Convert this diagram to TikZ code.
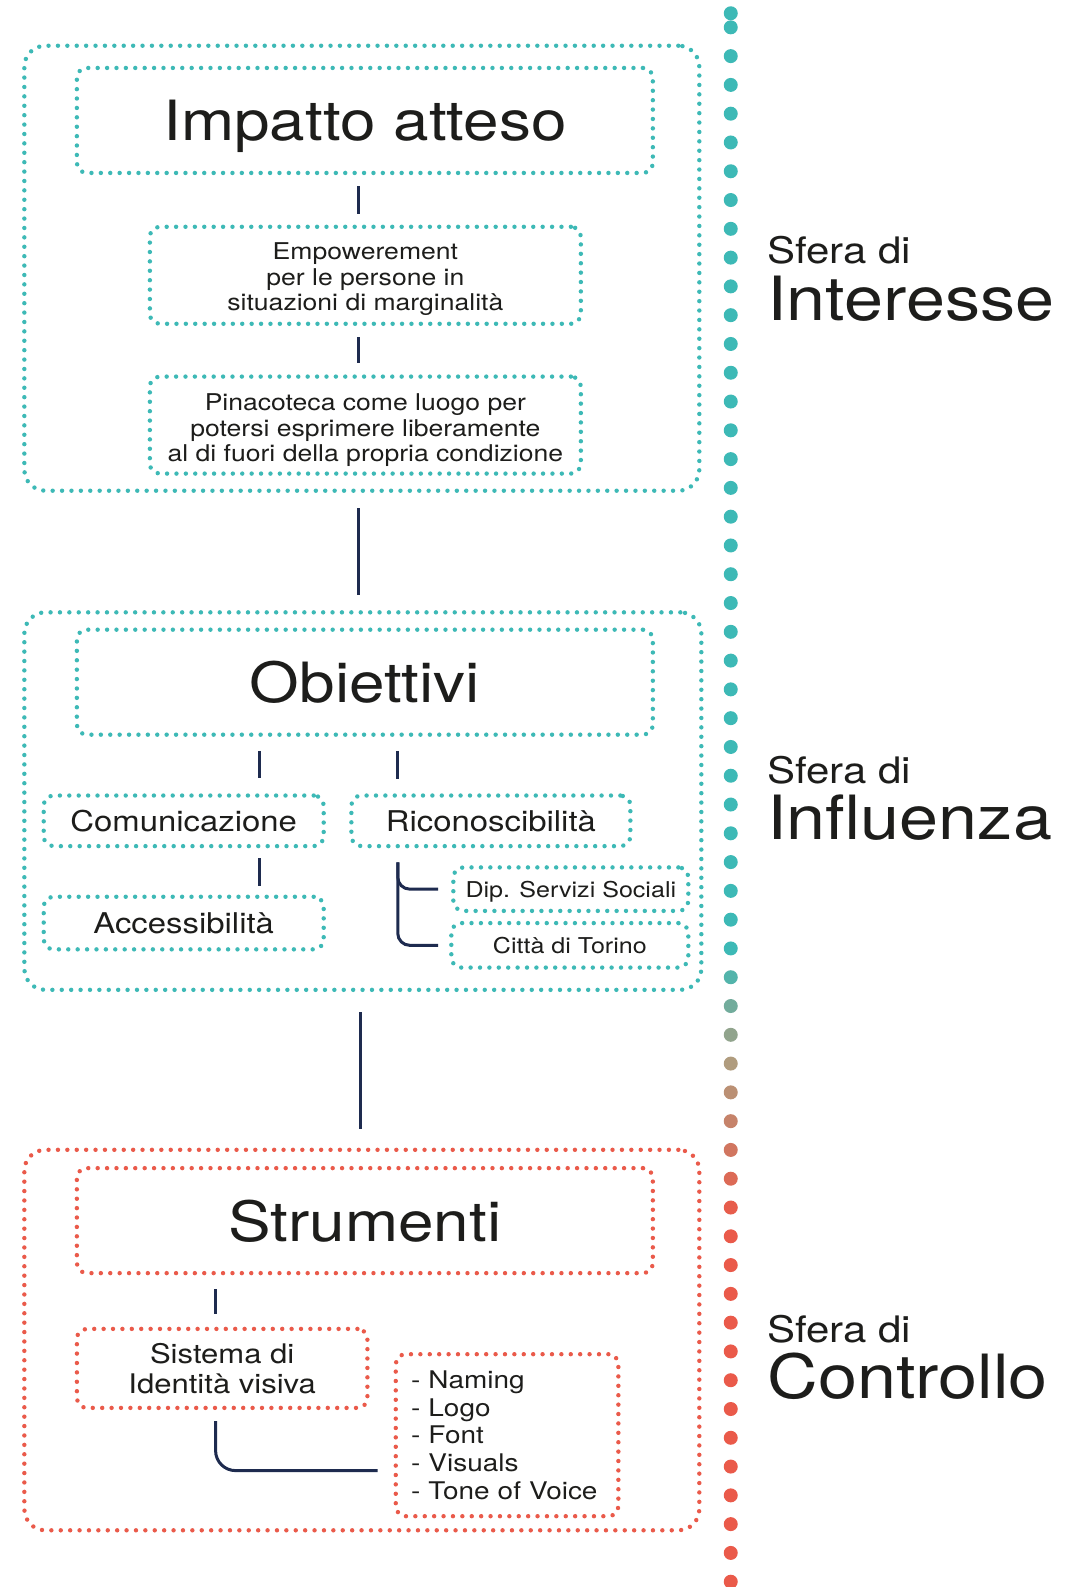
\documentclass[tikz,border=0pt]{standalone}
\usepackage{fontspec}
\setmainfont{TeX Gyre Heros}[FakeStretch=1.15]
\usetikzlibrary{calc}

\definecolor{sphteal}{RGB}{61,185,182}
\definecolor{sphred}{RGB}{234,90,74}
\definecolor{dottan}{RGB}{176,156,126}
\definecolor{linknavy}{RGB}{30,43,79}
\definecolor{ink}{RGB}{29,29,27}

\newcommand\fTitle{\fontsize{55.5}{62}\selectfont}
\newcommand\fSphere{\fontsize{36.5}{40}\selectfont}
\newcommand\fBig{\fontsize{61}{66}\selectfont}
\newcommand\fMid{\fontsize{28.6}{32}\selectfont}
\newcommand\fSub{\fontsize{21.8}{25}\selectfont}
\newcommand\fBody{\fontsize{23.1}{25.3}\selectfont}
\newcommand\fSis{\fontsize{27}{30.4}\selectfont}
\newcommand\fList{\fontsize{24.3}{27.8}\selectfont}
% invisible strut that lifts the top of a text block
\newcommand\topstrut[1]{\rule{0pt}{#1}}

\tikzset{
  dotbox/.style={draw=#1, line width=4.4pt, line cap=round,
    dash pattern=on 0pt off 9.4pt, rounded corners=10pt,
    inner sep=0pt, text=ink, align=center},
  groupbox/.style={dotbox=#1, rounded corners=21pt},
  link/.style={draw=linknavy, line width=3pt},
  sphlabel/.style={anchor=base west, inner sep=0pt, text=ink},
}

\begin{document}
\begin{tikzpicture}[x=1.01215pt, y=-1.01215pt]
\useasboundingbox[fill=white] (0,0) rectangle (1070,1568);

% column guides for the connectors
\coordinate (axisA) at (354,0);
\coordinate (axisB) at (356,0);
\coordinate (colL) at (256,0);
\coordinate (colR) at (393,0);
\coordinate (colS) at (213,1453);

% ---------- Impatto atteso ----------
\node[groupbox=sphteal, minimum width=675pt, minimum height=445pt] (sphA) at (357.5,265) {};
\node[dotbox=sphteal, minimum width=576pt, minimum height=105pt, font=\fTitle, text depth=0pt] (impatto) at (360.5,119) {Impatto atteso};
\node[dotbox=sphteal, minimum width=431pt, minimum height=97pt, font=\fBody] (empower) at (361,272)
  {\topstrut{25pt}Empowerement\\per le persone in\\situazioni di marginalità};
\node[dotbox=sphteal, minimum width=431pt, minimum height=97pt, font=\fBody] (pinacoteca) at (361,420)
  {\topstrut{27pt}Pinacoteca come luogo per\\potersi esprimere liberamente\\al di fuori della propria condizione};

% ---------- Obiettivi ----------
\node[groupbox=sphteal, minimum width=677pt, minimum height=377.5pt] (sphB) at (358.5,791.5) {};
\node[dotbox=sphteal, minimum width=576pt, minimum height=105pt, font=\fTitle, text depth=0pt] (obiettivi) at (360.5,674) {Obiettivi};
\node[dotbox=sphteal, minimum width=280pt, minimum height=50.6pt, font=\fMid, text depth=0pt] (comunic) at (181.5,811) {Comunicazione};
\node[dotbox=sphteal, minimum width=279pt, minimum height=50.6pt, font=\fMid, text depth=0pt] (ricon) at (485,811) {Riconoscibilità};
\node[dotbox=sphteal, minimum width=280pt, minimum height=52.6pt, font=\fMid, text depth=0pt] (access) at (181.5,912) {Accessibilità};
\node[dotbox=sphteal, minimum width=235pt, minimum height=43.5pt, font=\fSub, text depth=0pt] (dip) at (564,878.5) {Dip. Servizi Sociali};
\node[dotbox=sphteal, minimum width=237pt, minimum height=44.5pt, font=\fSub, text depth=0pt] (citta) at (563,934) {Città di Torino};

% ---------- Strumenti ----------
\node[groupbox=sphred, minimum width=675pt, minimum height=380.5pt] (sphC) at (357.5,1324) {};
\node[dotbox=sphred, minimum width=576pt, minimum height=105pt, font=\fTitle, text depth=0pt] (strumenti) at (360.5,1206) {Strumenti};
\node[dotbox=sphred, minimum width=290.5pt, minimum height=79pt, font=\fSis] (sistema) at (219.5,1352) {Sistema di\\Identità visiva};
\node[dotbox=sphred, minimum width=222.6pt, minimum height=162pt, font=\fList, text width=192pt, align=left] (voci) at (501,1418)
  {- Naming\\- Logo\\- Font\\- Visuals\\- Tone of Voice};

% ---------- connectors ----------
\draw[link, shorten <=11pt, shorten >=11pt] (impatto.south -| axisA) -- (empower.north -| axisA);
\draw[link, shorten <=11pt, shorten >=11pt] (empower.south -| axisA) -- (pinacoteca.north -| axisA);
\draw[link, shorten <=15.2pt, shorten >=15.2pt] (sphA.south -| axisA) -- (sphB.north -| axisA);
\draw[link, shorten <=14pt, shorten >=15pt] (obiettivi.south -| colL) -- (comunic.north -| colL);
\draw[link, shorten <=14pt, shorten >=14pt] (obiettivi.south -| colR) -- (ricon.north -| colR);
\draw[link, shorten <=10pt, shorten >=9pt] (comunic.south -| colL) -- (access.north -| colL);
\draw[link, rounded corners=12pt, shorten <=14pt, shorten >=13pt] (ricon.south -| colR) |- (dip.west);
\draw[link, rounded corners=12pt, shorten <=14pt, shorten >=11pt] (ricon.south -| colR) |- (citta.west);
\draw[link, shorten <=20.2pt, shorten >=18.2pt] (sphB.south -| axisB) -- (sphC.north -| axisB);
\draw[link, shorten <=14pt, shorten >=13pt] (strumenti.south -| colS) -- (sistema.north -| colS);
\draw[link, rounded corners=20pt, shorten <=11pt, shorten >=16pt] (sistema.south -| colS) |- (voci.west |- colS);

% ---------- sphere labels ----------
\node[sphlabel, font=\fSphere] (sferaA) at (758,260) {Sfera di};
\node[sphlabel, font=\fBig] (nomeA) at (758,317) {Interesse};
\node[sphlabel, font=\fSphere] (sferaB) at (758,774) {Sfera di};
\node[sphlabel, font=\fBig] (nomeB) at (758,829) {Influenza};
\node[sphlabel, font=\fSphere] (sferaC) at (758,1326) {Sfera di};
\node[sphlabel, font=\fBig] (nomeC) at (758,1382) {Controllo};

% ---------- dotted divider: teal, through tan, into red ----------
\fill[sphteal] (722,13.1) circle[radius=7pt];
\foreach \k in {0,...,54}{
  \pgfmathsetmacro{\yy}{27.0+\k*28.44}
  \pgfmathtruncatemacro{\pa}{max(0,min(100,(\yy-945)/1.05))}
  \pgfmathtruncatemacro{\pb}{max(0,min(100,(\yy-1050)/1.5))}
  \colorlet{dotA}{dottan!\pa!sphteal}
  \colorlet{dotB}{sphred!\pb!dotA}
  \fill[dotB] (722,\yy) circle[radius=7pt];
}
\end{tikzpicture}
\end{document}
